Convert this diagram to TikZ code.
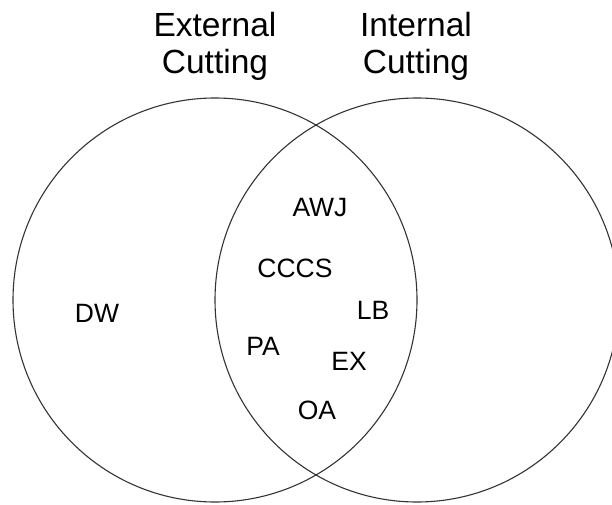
\documentclass[tikz,border=0pt]{standalone}
\usepackage{fontspec}
\setmainfont{Liberation Sans}
\begin{document}
\begin{tikzpicture}[x=1pt,y=-1pt,
  ring/.style={draw=black!80,line width=1.1pt},
  lbl/.style={font=\fontsize{26.5}{30}\selectfont,inner sep=0pt,anchor=base},
  ttl/.style={font=\fontsize{33.5}{37}\selectfont,inner sep=0pt,anchor=base}]
\useasboundingbox (0,0) rectangle (612,505);
\clip (0,0) rectangle (612,505);
\draw[ring] (215,300) circle[radius=202];
\draw[ring] (417,300) circle[radius=202];
\node[ttl] (ext1) at (215,37) {External};
\node[ttl] (ext2) at (215,74) {Cutting};
\node[ttl] (int1) at (416,37) {Internal};
\node[ttl] (int2) at (416,74) {Cutting};
\node[lbl] (awj) at (320,216) {AWJ};
\node[lbl] (cccs) at (295,277) {CCCS};
\node[lbl] (dw) at (97,322) {DW};
\node[lbl] (lb) at (373,319) {LB};
\node[lbl] (pa) at (263,355) {PA};
\node[lbl] (ex) at (349,370) {EX};
\node[lbl] (oa) at (317,419) {OA};
\end{tikzpicture}
\end{document}
